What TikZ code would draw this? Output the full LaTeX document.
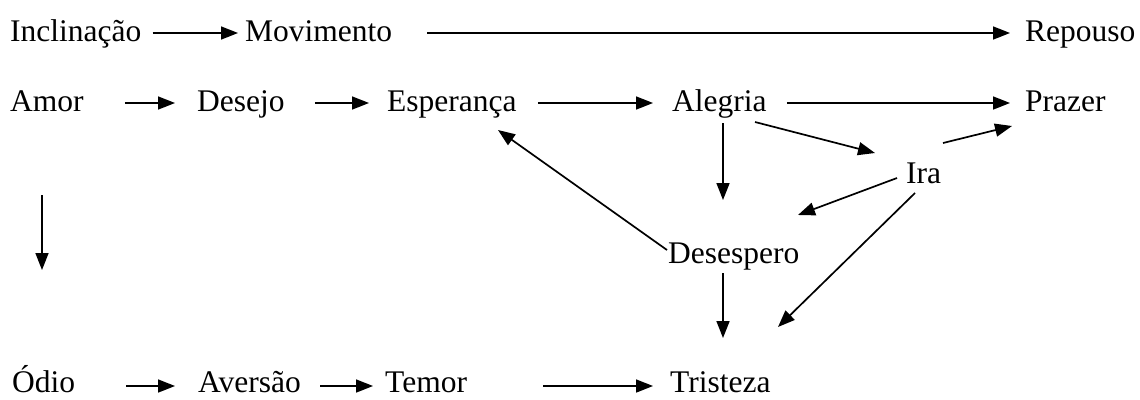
\documentclass[tikz,border=0pt]{standalone}
\usepackage{fontspec}
\setmainfont{Liberation Serif}
\usetikzlibrary{arrows.meta}

\tikzstyle{emo} = [anchor=base west, inner sep=0pt, font=\fontsize{31.5}{36}\selectfont]
\tikzstyle{seta} = [-{Triangle[length=17pt, width=13pt]}, line width=1.7pt]

\begin{document}
\begin{tikzpicture}[x=1pt, y=-1pt]
  \useasboundingbox (0,0) rectangle (1140,399);
  \node[emo] (incl) at (10,41) {Inclinação};
  \node[emo] (movim) at (245,41) {Movimento};
  \node[emo] (repouso) at (1025,41) {Repouso};
  \node[emo] (amor) at (10,111) {Amor};
  \node[emo] (desejo) at (197,111) {Desejo};
  \node[emo] (esper) at (387,111) {Esperança};
  \node[emo] (alegria) at (672,111) {Alegria};
  \node[emo] (prazer) at (1025,111) {Prazer};
  \node[emo] (ira) at (906,183) {Ira};
  \node[emo] (desesp) at (668,263) {Desespero};
  \node[emo] (odio) at (12,392) {Ódio};
  \node[emo] (aversao) at (198,392) {Aversão};
  \node[emo] (temor) at (385,392) {Temor};
  \node[emo] (triste) at (670,392) {Tristeza};

  \draw[seta, shorten <=11pt, shorten >=7pt] ([yshift=8pt]incl.base east) -- ([yshift=8pt]movim.base west);
  \draw[seta, shorten <=35pt, shorten >=15pt] ([yshift=8pt]movim.base east) -- ([yshift=8pt]repouso.base west);
  \draw[seta, shorten <=41pt, shorten >=22pt] ([yshift=8pt]amor.base east) -- ([yshift=8pt]desejo.base west);
  \draw[seta, shorten <=30pt, shorten >=18pt] ([yshift=8pt]desejo.base east) -- ([yshift=8pt]esper.base west);
  \draw[seta, shorten <=21pt, shorten >=19pt] ([yshift=8pt]esper.base east) -- ([yshift=8pt]alegria.base west);
  \draw[seta, shorten <=20pt, shorten >=15pt] ([yshift=8pt]alegria.base east) -- ([yshift=8pt]prazer.base west);
  \draw[seta, shorten <=51pt, shorten >=23pt] ([yshift=6pt]odio.base east) -- ([yshift=6pt]aversao.base west);
  \draw[seta, shorten <=19pt, shorten >=12pt] ([yshift=6pt]aversao.base east) -- ([yshift=6pt]temor.base west);
  \draw[seta, shorten <=76pt, shorten >=17pt] ([yshift=6pt]temor.base east) -- ([yshift=6pt]triste.base west);

  \draw[seta] ([xshift=32pt,yshift=-84pt]amor.base west) -- ([xshift=30pt,yshift=122pt]odio.base west);
  \draw[seta] ([xshift=51pt,yshift=-12pt]alegria.base west) -- ([xshift=55pt,yshift=63pt]desesp.base west);
  \draw[seta] ([xshift=55pt,yshift=-10pt]desesp.base west) -- ([xshift=53pt,yshift=54pt]triste.base west);
  \draw[seta] ([xshift=-1pt,yshift=13pt]desesp.base west) -- ([xshift=111pt,yshift=-19pt]esper.base west);
  \draw[seta] ([xshift=83pt,yshift=-11pt]alegria.base west) -- ([xshift=-31pt,yshift=30pt]ira.base west);
  \draw[seta] ([xshift=37pt,yshift=40pt]ira.base west) -- ([xshift=-13pt,yshift=-15pt]prazer.base west);
  \draw[seta] ([xshift=-9pt,yshift=5pt]ira.base west) -- ([xshift=130pt,yshift=48pt]desesp.base west);
  \draw[seta] ([xshift=9pt,yshift=-10pt]ira.base west) -- ([xshift=108pt,yshift=65pt]triste.base west);
\end{tikzpicture}
\end{document}
